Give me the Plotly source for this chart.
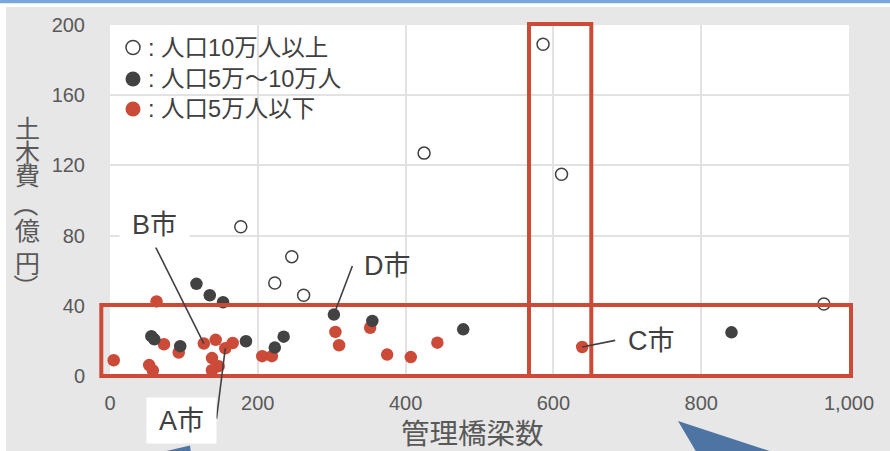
import plotly.graph_objects as go

# 人口10万人以上
large_x = [586, 611, 425, 177, 246, 223, 262, 966]
large_y = [189, 115, 127, 85, 68, 53, 46, 41]

# 人口5万～10万人
mid_x = [117, 135, 153, 56, 60, 95, 184, 223, 235, 303, 355, 478, 841]
mid_y = [52.5, 46, 42, 22.7, 20.9, 17, 19.8, 16.2, 22.4, 35, 31.4, 26.6, 24.9]

# 人口5万人以下
small_x = [5, 53, 58, 63, 73, 93, 127, 143, 138, 138, 147, 156, 166, 206, 219,
           305, 310, 352, 375, 407, 443, 639]
small_y = [9, 6.2, 3.2, 42.5, 18.1, 13.4, 18.5, 20.6, 10.2, 3.3, 5.6, 15.8, 18.8,
           11.3, 11.3, 25.1, 17.5, 27.5, 12.2, 10.8, 19, 16.5]

legend_labels = ["人口10万人以上", "人口5万～10万人", "人口5万人以下"]
x_ticks = [0, 200, 400, 600, 800, 1000]
y_ticks = [0, 40, 80, 120, 160, 200]

# labelled cities: (name, series x, series y, index)
callouts = [
    ("A市", small_x, small_y, 11),
    ("B市", small_x, small_y, 6),
    ("C市", small_x, small_y, 21),
    ("D市", mid_x, mid_y, 9),
]

RED = "#cc4a38"
DARK = "#424242"
TXT = "#595959"
GRAY_BG = "#e7e7e7"
NUM_FONT = "Liberation Sans, Arial, sans-serif"
JP_FONT = "Liberation Sans, Noto Sans CJK JP, sans-serif"

W_PX, H_PX = 890, 451
L, R, T, B = 110, 849, 25, 376


def px(xp):
    return (xp - L) / (R - L)


def py(yp):
    return (B - yp) / (B - T)


fig = go.Figure()

fig.add_trace(go.Scatter(
    x=small_x, y=small_y, mode="markers", name=legend_labels[2],
    marker=dict(size=12.5, color=RED, line=dict(width=0)),
    cliponaxis=False,
))
fig.add_trace(go.Scatter(
    x=mid_x, y=mid_y, mode="markers", name=legend_labels[1],
    marker=dict(size=12.5, color=DARK, line=dict(width=0)),
    cliponaxis=False,
))
fig.add_trace(go.Scatter(
    x=large_x, y=large_y, mode="markers", name=legend_labels[0],
    marker=dict(size=12, color="white", line=dict(width=1.5, color=DARK)),
    cliponaxis=False,
))

shapes = []
# page frame: white edge, blue band on top
shapes.append(dict(type="rect", xref="paper", yref="paper", x0=px(-5), x1=px(6),
                   y0=py(460), y1=py(-5), fillcolor="white", line_width=0, layer="below"))
shapes.append(dict(type="rect", xref="paper", yref="paper", x0=px(-5), x1=px(900),
                   y0=py(7), y1=py(-5), fillcolor="white", line_width=0, layer="below"))
shapes.append(dict(type="rect", xref="paper", yref="paper", x0=px(-5), x1=px(900),
                   y0=py(3.3), y1=py(-5), fillcolor="#7ba7da", line_width=0, layer="above"))

# white panel behind the key
shapes.append(dict(type="rect", xref="paper", yref="paper", x0=px(110), x1=px(366),
                   y0=py(128), y1=py(25), fillcolor="white", line_width=0, layer="between"))

# highlight frames
shapes.append(dict(type="rect", xref="paper", yref="paper", x0=px(101.3), x1=px(851),
                   y0=py(376), y1=py(305), line=dict(color=RED, width=4),
                   fillcolor="rgba(0,0,0,0)", layer="above"))
shapes.append(dict(type="rect", xref="paper", yref="paper", x0=px(529), x1=px(591.3),
                   y0=py(376), y1=py(24), line=dict(color=RED, width=4),
                   fillcolor="rgba(0,0,0,0)", layer="above"))


# blue pointer shapes at the bottom
def path(points):
    return "M " + " L ".join(f"{px(a):.5f},{py(b):.5f}" for a, b in points) + " Z"


shapes.append(dict(type="path", xref="paper", yref="paper",
                   path=path([(678, 421), (701, 460), (797, 460)]),
                   fillcolor="#4e74a3", line_width=0, layer="above"))
shapes.append(dict(type="path", xref="paper", yref="paper",
                   path=path([(158, 453), (190, 445.5), (191, 453)]),
                   fillcolor="#4e74a3", line_width=0, layer="above"))

# key markers
key_rows = [47.5, 79, 109]
shapes.append(dict(type="circle", xref="paper", yref="paper",
                   xsizemode="pixel", ysizemode="pixel",
                   xanchor=px(133), yanchor=py(key_rows[0]), x0=-7, x1=7, y0=-7, y1=7,
                   fillcolor="white", line=dict(color=DARK, width=1.5), layer="above"))
shapes.append(dict(type="circle", xref="paper", yref="paper",
                   xsizemode="pixel", ysizemode="pixel",
                   xanchor=px(133), yanchor=py(key_rows[1]), x0=-7.5, x1=7.5, y0=-7.5, y1=7.5,
                   fillcolor=DARK, line_width=0, layer="above"))
shapes.append(dict(type="circle", xref="paper", yref="paper",
                   xsizemode="pixel", ysizemode="pixel",
                   xanchor=px(133), yanchor=py(key_rows[2]), x0=-7.5, x1=7.5, y0=-7.5, y1=7.5,
                   fillcolor=RED, line_width=0, layer="above"))

annotations = []
for lab, yr in zip(legend_labels, key_rows):
    annotations.append(dict(xref="paper", yref="paper", x=px(146), y=py(yr),
                            xanchor="left", yanchor="middle", showarrow=False,
                            text=": " + lab, font=dict(family=JP_FONT, size=23.5, color="#404040")))

# leader lines from each labelled city
leader_tails = {"A市": (-9, 72), "B市": (-49, -98), "C市": (34.5, -7), "D市": (19, -50)}
label_pos = {"A市": (181.5, 420.5), "B市": (154, 224), "C市": (651, 341), "D市": (387, 266)}
for name, xs, ys, i in callouts:
    ax, ay = leader_tails[name]
    annotations.append(dict(x=xs[i], y=ys[i], xref="x", yref="y", text="",
                            showarrow=True, arrowhead=0, arrowwidth=1.6,
                            arrowcolor="#404040", ax=ax, ay=ay, standoff=0))
for name, _, _, _ in callouts:
    cx, cy = label_pos[name]
    a = dict(xref="paper", yref="paper", x=px(cx), y=py(cy), text=name,
             showarrow=False, xanchor="center", yanchor="middle",
             font=dict(family=JP_FONT, size=27, color="#404040"))
    if name in ("A市", "B市"):
        a.update(bgcolor="white", width=65, height=41, borderpad=2)
    annotations.append(a)

# axis titles
annotations.append(dict(xref="paper", yref="paper", x=px(472), y=py(431.5), text="管理橋梁数",
                        showarrow=False, xanchor="center", yanchor="middle",
                        font=dict(family="Noto Sans CJK JP", size=28.5, color=TXT)))
# vertical y title, one glyph per row; brackets are turned a quarter turn
y_title_chars = ["土", "木", "費", "（", "億", "円", "）"]
y_title_rows = [127, 150.5, 173.5, 204, 228.5, 261.5, 286]
for ch, yr in zip(y_title_chars, y_title_rows):
    rot = 90 if ch in "（）" else 0
    annotations.append(dict(xref="paper", yref="paper", x=px(27), y=py(yr), text=ch,
                            showarrow=False, xanchor="center", yanchor="middle",
                            textangle=rot,
                            font=dict(family="Noto Sans CJK JP", size=25, color=TXT)))

fig.update_layout(
    width=W_PX, height=H_PX,
    margin=dict(l=L, r=W_PX - R, t=T, b=H_PX - B, pad=0),
    paper_bgcolor=GRAY_BG, plot_bgcolor="white",
    showlegend=False,
    shapes=shapes, annotations=annotations,
    xaxis=dict(range=[0, 1000], tickvals=x_ticks, tickformat=",d",
               showgrid=True, gridcolor="#e2e2e2", gridwidth=1.5,
               zeroline=False, showline=False, ticks="",
               ticklabelstandoff=13,
               tickfont=dict(family=NUM_FONT, size=20, color=TXT)),
    yaxis=dict(range=[0, 200], tickvals=y_ticks,
               showgrid=True, gridcolor="#e2e2e2", gridwidth=1.5,
               zeroline=False, showline=False, ticks="",
               ticklabelstandoff=24,
               tickfont=dict(family=NUM_FONT, size=20, color=TXT)),
)

fig.write_html("out.html")
